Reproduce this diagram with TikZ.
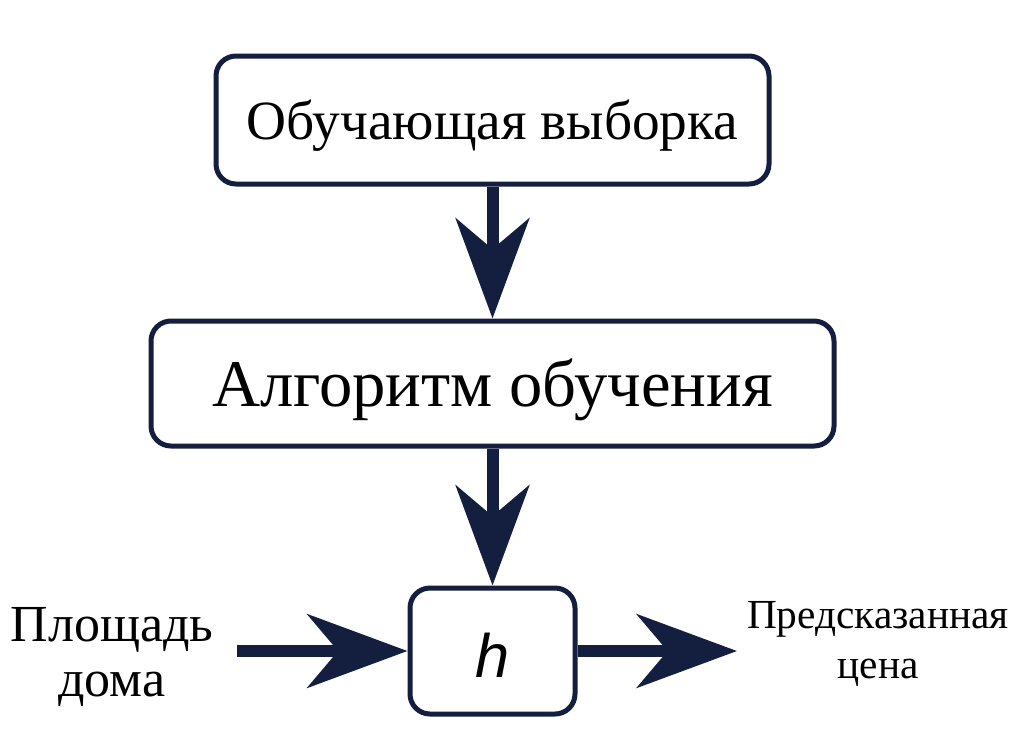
\documentclass[tikz,border=0pt]{standalone}
\usepackage{fontspec}
\setmainfont{Liberation Serif}
\newfontfamily\hsans{Liberation Sans}
\usetikzlibrary{arrows.meta}
\definecolor{navy}{RGB}{20,30,62}
\begin{document}
\begin{tikzpicture}[x=0.75pt,y=-0.75pt,
  box/.style={draw=navy,line width=3.75pt,rounded corners=15pt,fill=white,inner sep=0pt},
  bigarrow/.style={draw=navy,line width=9pt,-{Stealth[length=75pt,width=55pt,inset=23pt]}},
  lbl/.style={align=center,inner sep=0pt}]
\useasboundingbox (0,0) rectangle (1024,751);
\node[box,minimum width=553*0.75pt,minimum height=128*0.75pt] (train) at (492.5,120) {};
\node[lbl,font=\fontsize{41.5}{46}\selectfont] (traintxt) at (492.5,126) {Обучающая выборка};
\node[box,minimum width=683*0.75pt,minimum height=125*0.75pt] (algo) at (492.5,383.5) {};
\node[lbl,font=\fontsize{50}{56}\selectfont] (algotxt) at (492.5,390) {Алгоритм обучения};
\node[box,minimum width=165*0.75pt,minimum height=126*0.75pt] (h) at (492.5,651) {};
\node[lbl,font=\hsans\itshape\fontsize{46}{50}\selectfont] (htxt) at (492.5,655) {h};
\node[lbl,font=\fontsize{39}{41}\selectfont] (area) at (112,657) {Площадь\\дома};
\node[lbl,font=\fontsize{31}{37.5}\selectfont] (price) at (878,644) {Предсказанная\\цена};
\coordinate (inStart) at (237,651);
\coordinate (outEnd) at (737,651);
\draw[bigarrow] (train.south) -- (algo.north);
\draw[bigarrow] (algo.south) -- (h.north);
\draw[bigarrow] (inStart) -- (h.west);
\draw[bigarrow] (h.east) -- (outEnd);
\end{tikzpicture}
\end{document}
